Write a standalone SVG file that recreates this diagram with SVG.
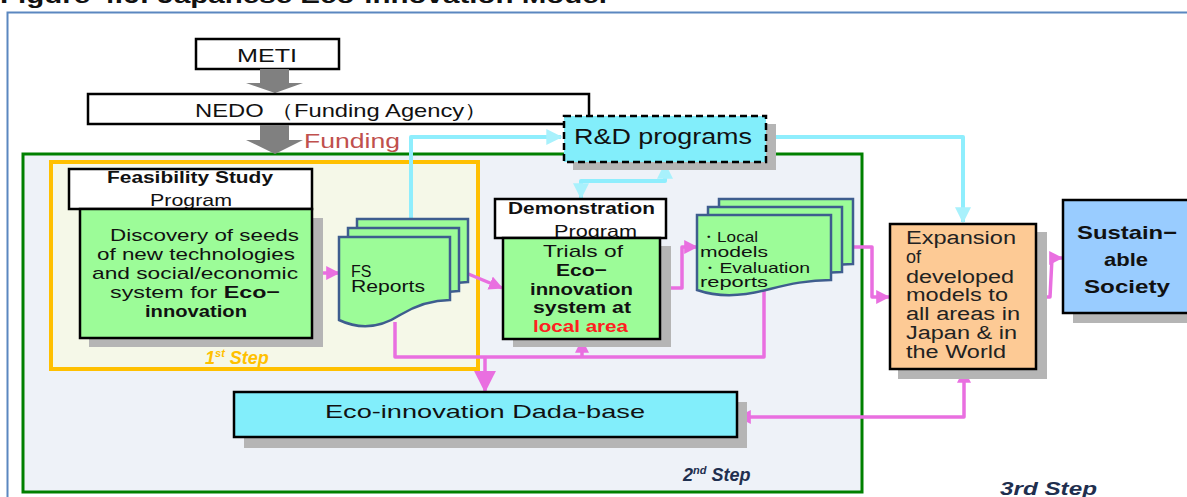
<svg xmlns="http://www.w3.org/2000/svg" width="1187" height="497" viewBox="0 0 1187 497">
<style>
text{font-family:"Liberation Sans",Arial,sans-serif;fill:#111}
.b{font-weight:bold}
.box{stroke:#000;stroke-width:2.5}
.sh{fill:#b5b5b5}
.green{fill:#9cfc98}
.cyan{fill:#82eefb}
.pk{fill:none;stroke:#e96fe0;stroke-width:3.5;stroke-linejoin:round}
.cy{fill:none;stroke:#8feefd;stroke-width:4;stroke-linejoin:round}
.page{fill:#9cfc98;stroke:#3e5d8e;stroke-width:2.5}
.step{font-style:italic;font-weight:bold}
</style>
<defs>
<marker id="ap" viewBox="0 0 12 12" refX="11" refY="6" markerWidth="14" markerHeight="14" markerUnits="userSpaceOnUse" orient="auto-start-reverse"><path d="M0,0 L12,6 L0,12 Z" fill="#e96fe0"/></marker>
<marker id="apL" viewBox="0 0 12 12" refX="11" refY="6" markerWidth="22" markerHeight="24" markerUnits="userSpaceOnUse" orient="auto"><path d="M0,0 L12,6 L0,12 Z" fill="#e96fe0"/></marker>
<marker id="ac" viewBox="0 0 12 12" refX="11" refY="6" markerWidth="16" markerHeight="16" markerUnits="userSpaceOnUse" orient="auto-start-reverse"><path d="M0,0 L12,6 L0,12 Z" fill="#a8f1fc"/></marker>
<path id="fsp" d="M339,237 H450 V300 C430,300 415,306 400,315 C380,328 360,330 339,320 Z"/>
<path id="lmp" d="M697,215 H831 V280 C808,280 790,284 770,289 C745,296 720,298 697,290 Z"/>
</defs>

<!-- title (cut off at top) -->
<text x="0" y="3" class="b" font-size="22" textLength="607" lengthAdjust="spacingAndGlyphs">Figure 4.6: Japanese Eco-innovation Model</text>

<!-- outer frame -->
<path d="M7.5,497 V12.5 H1187" fill="none" stroke="#5b87c0" stroke-width="2"/>

<!-- 2nd step frame -->
<g id="step2">
<rect x="23" y="154" width="839" height="338" fill="#eef2f8" stroke="#008000" stroke-width="3"/>
<text x="683" y="481" class="step" font-size="18" style="fill:#1f2f4f">2<tspan font-size="11" dy="-7">nd</tspan><tspan dy="7"> Step</tspan></text>
</g>

<!-- 1st step frame -->
<g id="step1">
<rect x="51" y="162" width="427" height="207" fill="#f5f8e8" stroke="#ffc000" stroke-width="4"/>
<text x="205" y="364" class="step" font-size="18" style="fill:#ffc000">1<tspan font-size="11" dy="-7">st</tspan><tspan dy="7"> Step</tspan></text>
</g>

<g id="step3">
<text x="1000" y="495" class="step" font-size="18" style="fill:#1f2f4f" textLength="97" lengthAdjust="spacingAndGlyphs">3rd Step</text>
</g>

<!-- METI -->
<g id="meti">
<rect x="196" y="39" width="143" height="30" fill="#fff" class="box"/>
<text x="267" y="62" text-anchor="middle" font-size="19" textLength="60" lengthAdjust="spacingAndGlyphs">METI</text>
</g>
<polygon points="260,69 289,69 289,83 303,83 275,93 246,83 260,83" fill="#808080"/>

<!-- NEDO -->
<g id="nedo">
<rect x="88" y="94" width="501" height="30" fill="#fff" class="box"/>
<text x="195" y="117" font-size="19" textLength="293" lengthAdjust="spacingAndGlyphs">NEDO （Funding Agency）</text>
</g>
<polygon points="260,125 289,125 289,140 303,140 275,154 246,140 260,140" fill="#808080"/>
<text x="304" y="148" font-size="20" style="fill:#c0504d" textLength="96" lengthAdjust="spacingAndGlyphs">Funding</text>

<!-- connectors -->
<g id="connectors">
<polyline class="cy" points="411,218 411,137 561,137" marker-end="url(#ac)"/>
<polyline class="cy" points="665,164 665,181 581,181 581,198" marker-start="url(#ac)" marker-end="url(#ac)"/>
<polyline class="cy" points="766,137 963,137 963,222" marker-end="url(#ac)"/>
<line class="pk" x1="312" y1="273" x2="339" y2="273" marker-end="url(#ap)"/>
<line class="pk" x1="466" y1="273" x2="502" y2="288" marker-end="url(#ap)"/>
<polyline class="pk" points="660,288 682,288 682,247 697,247" marker-end="url(#ap)"/>
<polyline class="pk" points="852,247 872,247 872,297 889,297" marker-end="url(#ap)"/>
<polyline class="pk" points="1036,297 1050,297 1052,258 1062,258" marker-end="url(#ap)"/>
<polyline class="pk" points="395,322 395,357 764,357 764,290"/>
<line class="pk" x1="582" y1="357" x2="582" y2="340" marker-end="url(#ap)"/>
<line class="pk" x1="485" y1="357" x2="485" y2="391" stroke-width="5" marker-end="url(#apL)"/>
<polyline class="pk" points="738,417 964,417 964,370" marker-start="url(#ap)" marker-end="url(#ap)"/>
</g>

<!-- Feasibility study -->
<g id="feasibility">
<rect x="69" y="169" width="243" height="40" fill="#fff" class="box"/>
<text x="107" y="183" class="b" font-size="16" textLength="166" lengthAdjust="spacingAndGlyphs">Feasibility Study</text>
<text x="150" y="206" font-size="17" textLength="82" lengthAdjust="spacingAndGlyphs">Program</text>
<rect x="89" y="218" width="234" height="129" class="sh"/>
<rect x="80" y="209" width="232" height="129" class="green box"/>
<text font-size="17">
<tspan x="110" y="241" textLength="189" lengthAdjust="spacingAndGlyphs">Discovery of seeds</tspan>
<tspan x="97" y="260" textLength="198" lengthAdjust="spacingAndGlyphs">of new technologies</tspan>
<tspan x="92" y="279" textLength="206" lengthAdjust="spacingAndGlyphs">and social/economic</tspan>
</text>
<text x="110" y="298" font-size="17" textLength="170" lengthAdjust="spacingAndGlyphs">system  for <tspan class="b">Eco−</tspan></text>
<text x="145" y="317" class="b" font-size="17" textLength="102" lengthAdjust="spacingAndGlyphs">innovation</text>
</g>

<!-- FS reports -->
<g id="fs-reports">
<use href="#fsp" transform="translate(18,-18)" class="page"/>
<use href="#fsp" transform="translate(9,-9)" class="page"/>
<use href="#fsp" class="page"/>
<text x="351" y="277" font-size="16">FS</text>
<text x="351" y="292" font-size="16" textLength="74" lengthAdjust="spacingAndGlyphs">Reports</text>
</g>

<!-- R&D programs -->
<g id="rd-programs">
<rect x="573" y="124" width="203" height="46" class="sh"/>
<rect x="564" y="116" width="202" height="46" class="cyan" stroke="#000" stroke-width="2.5" stroke-dasharray="7,4"/>
<text x="574" y="144" font-size="22" textLength="178" lengthAdjust="spacingAndGlyphs">R&amp;D programs</text>
</g>

<!-- Demonstration -->
<g id="demonstration">
<rect x="495" y="199" width="171" height="39" fill="#fff" class="box"/>
<text x="508" y="214" class="b" font-size="16" textLength="147" lengthAdjust="spacingAndGlyphs">Demonstration</text>
<text x="554" y="237" font-size="17" textLength="83" lengthAdjust="spacingAndGlyphs">Program</text>
<rect x="513" y="246" width="158" height="101" class="sh"/>
<rect x="503" y="238" width="157" height="101" class="green box"/>
<text font-size="17" class="b">
<tspan x="543" y="257" font-weight="normal" textLength="80" lengthAdjust="spacingAndGlyphs">Trials of</tspan>
<tspan x="556" y="276" textLength="51" lengthAdjust="spacingAndGlyphs">Eco−</tspan>
<tspan x="530" y="295" textLength="103" lengthAdjust="spacingAndGlyphs">innovation</tspan>
<tspan x="533" y="313" textLength="98" lengthAdjust="spacingAndGlyphs">system at</tspan>
<tspan x="533" y="332" style="fill:#ff2020" textLength="95" lengthAdjust="spacingAndGlyphs">local area</tspan>
</text>
</g>

<!-- Local models -->
<g id="local-models">
<use href="#lmp" transform="translate(22,-16)" class="page"/>
<use href="#lmp" transform="translate(11,-8)" class="page"/>
<use href="#lmp" class="page"/>
<text font-size="15">
<tspan x="700" y="242" textLength="58" lengthAdjust="spacingAndGlyphs">・Local</tspan>
<tspan x="700" y="257" textLength="68" lengthAdjust="spacingAndGlyphs">models</tspan>
<tspan x="700" y="273" textLength="110" lengthAdjust="spacingAndGlyphs">・Evaluation</tspan>
<tspan x="700" y="287" textLength="68" lengthAdjust="spacingAndGlyphs">reports</tspan>
</text>
</g>

<!-- Expansion -->
<g id="expansion">
<rect x="898" y="232" width="149" height="147" class="sh"/>
<rect x="890" y="224" width="146" height="145" fill="#fdca95" class="box"/>
<text font-size="18" style="fill:#222">
<tspan x="906" y="244" textLength="110" lengthAdjust="spacingAndGlyphs">Expansion</tspan>
<tspan x="906" y="263">of</tspan>
<tspan x="906" y="283" textLength="108" lengthAdjust="spacingAndGlyphs">developed</tspan>
<tspan x="906" y="301" textLength="102" lengthAdjust="spacingAndGlyphs">models to</tspan>
<tspan x="906" y="320" textLength="114" lengthAdjust="spacingAndGlyphs">all areas in</tspan>
<tspan x="906" y="339" textLength="111" lengthAdjust="spacingAndGlyphs">Japan &amp; in</tspan>
<tspan x="906" y="358" textLength="100" lengthAdjust="spacingAndGlyphs">the World</tspan>
</text>
</g>

<!-- Sustainable society -->
<g id="sustainable">
<rect x="1073" y="210" width="120" height="113" class="sh"/>
<rect x="1063" y="200" width="130" height="113" fill="#99ccff" class="box"/>
<text class="b" font-size="19">
<tspan x="1077" y="239" textLength="100" lengthAdjust="spacingAndGlyphs">Sustain−</tspan>
<tspan x="1104" y="266" textLength="44" lengthAdjust="spacingAndGlyphs">able</tspan>
<tspan x="1084" y="293" textLength="86" lengthAdjust="spacingAndGlyphs">Society</tspan>
</text>
</g>

<!-- Database -->
<g id="database">
<rect x="244" y="402" width="503" height="46" class="sh"/>
<rect x="234" y="392" width="503" height="45" class="cyan box"/>
<text x="325" y="418" font-size="19" textLength="320" lengthAdjust="spacingAndGlyphs">Eco-innovation Dada-base</text>
</g>
</svg>
